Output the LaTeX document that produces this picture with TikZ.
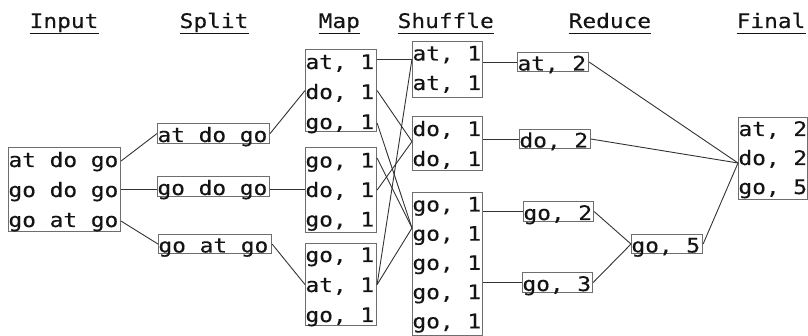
\documentclass[tikz,border=0pt]{standalone}
\usepackage{fontspec}
\newfontfamily\monofont[FakeStretch=1.14, FakeBold=0.4]{DejaVu Sans Mono}
\usetikzlibrary{calc}
\definecolor{ink}{HTML}{141414}
\definecolor{boxgray}{HTML}{6E6E6E}
\definecolor{linkgray}{HTML}{333333}
\tikzset{
  rec/.style={draw=boxgray, line width=1.1pt, inner sep=0pt, anchor=north west},
  txt/.style={font=\monofont\fontsize{20}{30}\selectfont, text=ink, inner sep=0pt, anchor=base west},
  hdr/.style={txt, text depth=5pt},
  uline/.style={draw=ink, line width=1.3pt},
  link/.style={draw=linkgray, line width=0.9pt},
}
% box: name, left, top, right, bottom, first baseline offset, line step, lines
\newcommand\recnode[8]{%
  \pgfmathsetmacro\recw{#4-#2}%
  \pgfmathsetmacro\rech{#5-#3}%
  \node[rec, minimum width=\recw pt, minimum height=\rech pt] (#1) at (#2,#3) {};
  \foreach \t [count=\i from 0] in {#8}
    \node[txt] (#1-\i) at ({#2+0.3}, {#3+#6+#7*\i}) {\t};
}
\newcommand\header[3]{%
  \node[hdr] (#1) at (#2,28) {#3};
  \draw[uline] ($(#1.south west)+(0,0.5)$) -- ($(#1.south east)+(0,0.5)$);
}
\begin{document}
\begin{tikzpicture}[x=1pt, y=-1pt]
  \useasboundingbox (0,0) rectangle (808,336);

  % column titles
  \header{tIn}{29.5}{Input}
  \header{tSp}{179.5}{Split}
  \header{tMa}{318.5}{Map}
  \header{tSh}{397.5}{Shuffle}
  \header{tRe}{568.5}{Reduce}
  \header{tFi}{736.5}{Final}

  % input
  \recnode{in}{8}{147}{120}{231}{20}{30}{{at do go},{go do go},{go at go}}
  % split
  \recnode{s1}{157}{123}{269}{143}{19}{30}{{at do go}}
  \recnode{s2}{157}{176}{269}{196}{19}{30}{{go do go}}
  \recnode{s3}{158}{234}{271}{253}{18.5}{30}{{go at go}}
  % map
  \recnode{m1}{305}{49}{376}{131}{20}{30}{{at, 1},{do, 1},{go, 1}}
  \recnode{m2}{305}{147}{376}{232}{20.5}{29.5}{{go, 1},{do, 1},{go, 1}}
  \recnode{m3}{305}{243}{376}{325}{19}{30}{{go, 1},{at, 1},{go, 1}}
  % shuffle
  \recnode{h1}{412}{41}{482}{97}{19.5}{29.5}{{at, 1},{at, 1}}
  \recnode{h2}{412}{116}{482}{170}{20}{30}{{do, 1},{do, 1}}
  \recnode{h3}{412}{192}{482}{335}{19.5}{29.2}{{go, 1},{go, 1},{go, 1},{go, 1},{go, 1}}
  % reduce
  \recnode{r1}{517}{52}{588}{71}{18.5}{30}{{at, 2}}
  \recnode{r2}{519}{129}{590}{148}{18.5}{30}{{do, 2}}
  \recnode{r3}{523}{201}{593}{221}{19}{30}{{go, 2}}
  \recnode{r4}{522}{272}{592}{292}{19}{30}{{go, 3}}
  \recnode{r5}{631}{234}{702}{253}{18.5}{30}{{go, 5}}
  % final
  \recnode{f}{738}{117}{807}{199}{19}{29}{{at, 2},{do, 2},{go, 5}}

  % entry points shared by several links
  \coordinate (h1in) at ($(h1.north west)+(0,18)$);
  \coordinate (h3in) at ($(h3.north west)+(0,36)$);
  \coordinate (fin)  at ($(f.north west)+(0,46)$);

  % input -> split
  \draw[link] ($(in.north east)+(0,14)$) -- (s1.west);
  \draw[link] (in.east) -- (in.east -| s2.west);
  \draw[link] ($(in.south east)+(0,-11)$) -- (s3.west);
  % split -> map
  \draw[link] (s1.east) -- (m1.west);
  \draw[link] (s2.east |- in.east) -- (in.east -| m2.west);
  \draw[link] (s3.east) -- (m3.west);
  % map -> shuffle
  \draw[link] ($(m1.north east)+(0,10)$) -- ($(h1.north west)+(0,18)$);
  \draw[link] (m1.east) -- ($(h2.west)+(0,-2)$);
  \draw[link] ($(m1.south east)+(0,-9)$) -- (h3in);
  \draw[link] ($(m2.north east)+(0,11)$) -- (h3in);
  \draw[link] (m2.east) -- ($(h2.west)+(0,-2)$);
  \draw[link] (m3.east) -- (h1in);
  \draw[link] (m3.east) -- (h3in);
  % shuffle -> reduce
  \draw[link] (r1.west -| h1.east) -- (r1.west);
  \draw[link] (r2.west -| h2.east) -- (r2.west);
  \draw[link] (r3.west -| h3.east) -- (r3.west);
  \draw[link] (r4.west -| h3.east) -- (r4.west);
  % reduce -> final
  \draw[link] (r1.east) -- (fin);
  \draw[link] (r2.east) -- (fin);
  \draw[link] (r3.east) -- (r5.west);
  \draw[link] (r4.east) -- (r5.west);
  \draw[link] (r5.east) -- (fin);
\end{tikzpicture}
\end{document}
